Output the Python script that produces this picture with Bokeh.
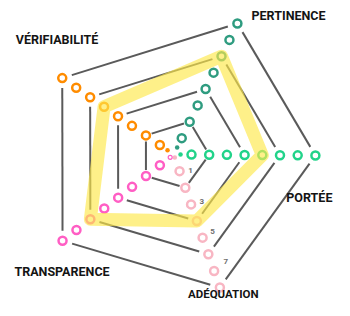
import math
from bokeh.plotting import figure
from bokeh.models import Range1d, ColumnDataSource
from bokeh.core.properties import value
from bokeh.embed import file_html
from bokeh.resources import INLINE

# ---- data ----
categories = ["PERTINENCE", "PORTÉE", "ADÉQUATION", "TRANSPARENCE", "VÉRIFIABILITÉ"]
scores = [6, 5, 4, 6, 5]
levels = [1, 2, 3, 4, 5, 6, 7, 8]
grid_levels = [2, 4, 6, 8]
tick_levels = [1, 3, 5, 7]
tick_labels = ["1", "3", "5", "7"]

# ---- styling / layout ----
colors = ["#2f9c80", "#22d38a", "#f8b6c3", "#ff5ec4", "#ff8c00"]
zero_styles = ["fill", "fill", "fill", "hollow", "fill"]
angles_deg = [64.1, -0.4, -70.9, -142.2, 145.6]
px_per_level = [18.2, 17.7, 17.6, 17.6, 16.9]
zero_level = [0.42, 0.38, 0.18, 0.26, 0.45]
grid_gap = {2: 6, 4: 9, 6: 9.5, 8: 10}
# (x, y, align, size) in pixels relative to the chart centre
label_pos = [(114.7, 139.0, "center", "12.5px"),
             (112.5, -42.5, "left", "12.5px"),
             (49.5, -139.8, "center", "11.5px"),
             (-111.8, -116.7, "center", "12.5px"),
             (-116.8, 115.0, "center", "12.5px")]
tick_offsets = [(11, -1), (10.7, -2.6), (10, -6.3), (11.7, -9)]
FONT = "Roboto"


def pos(i, lev):
    a = math.radians(angles_deg[i])
    r = lev * px_per_level[i]
    return r * math.cos(a), r * math.sin(a)


W, H = 334, 300
CX, CY = 173.3, 154.0
p = figure(width=W, height=H, x_range=Range1d(-CX, W - CX), y_range=Range1d(CY - H, CY),
           output_backend="svg", toolbar_location=None, min_border=0,
           x_axis_type=None, y_axis_type=None)
p.grid.visible = False
p.outline_line_color = None
p.background_fill_color = "white"
p.border_fill_color = "white"

n = len(categories)

# grid pentagons with gaps at vertices
x0s, y0s, x1s, y1s = [], [], [], []
for g in grid_levels:
    gap = grid_gap[g]
    for i in range(n):
        ax, ay = pos(i, g)
        bx, by = pos((i + 1) % n, g)
        dx, dy = bx - ax, by - ay
        d = math.hypot(dx, dy)
        ux, uy = dx / d, dy / d
        x0s.append(ax + ux * gap); y0s.append(ay + uy * gap)
        x1s.append(bx - ux * gap); y1s.append(by - uy * gap)
p.segment(x0s, y0s, x1s, y1s, line_color="#5a5a5a", line_width=2)

# level circles on each axis
cx, cy, cc = [], [], []
for i in range(n):
    for lev in levels:
        x, y = pos(i, lev)
        cx.append(x); cy.append(y); cc.append(colors[i])
p.scatter(cx, cy, size=8, marker="circle", fill_color="white", line_color=cc, line_width=2.5)

# tiny center markers
for i in range(n):
    x, y = pos(i, zero_level[i])
    if zero_styles[i] == "fill":
        p.scatter([x], [y], size=4.5, marker="circle", fill_color=colors[i], line_color=None)
    else:
        p.scatter([x], [y], size=4, marker="circle", fill_color="white", line_color=colors[i], line_width=1.2)

# score highlight
sx, sy = [], []
for i, s in enumerate(scores):
    x, y = pos(i, s)
    sx.append(x); sy.append(y)
p.patch(sx, sy, fill_color=None, line_color="#fde84a", line_alpha=0.65, line_width=13, line_join="round")

# tick labels along ADÉQUATION axis
adq = categories.index("ADÉQUATION")
tx, ty = [], []
for lev in tick_levels:
    x, y = pos(adq, lev)
    tx.append(x); ty.append(y)
tsrc = ColumnDataSource(dict(x=tx, y=ty, t=tick_labels,
                             xo=[o[0] for o in tick_offsets], yo=[o[1] for o in tick_offsets]))
p.text(x="x", y="y", text="t", source=tsrc, x_offset="xo", y_offset="yo",
       text_font=value("Roboto"), text_font_style="bold", text_font_size="8px",
       text_color="#6e6e6e", text_align="center", text_baseline="middle")

# category labels
for i, name in enumerate(categories):
    lx, ly, al, fs = label_pos[i]
    p.text([lx], [ly], text=[name], text_font=value(FONT), text_font_style="bold",
           text_font_size=fs, text_color="#141414", text_align=al, text_baseline="middle")

open("out.html", "w").write(file_html(p, INLINE))
